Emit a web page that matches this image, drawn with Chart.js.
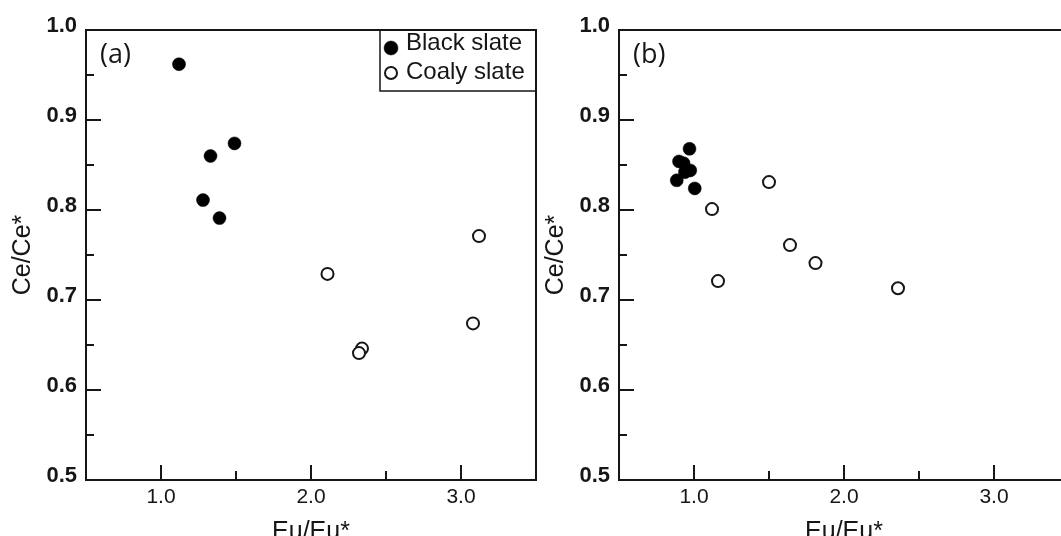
<!DOCTYPE html>
<html>
<head>
<meta charset="utf-8">
<script src="https://cdn.jsdelivr.net/npm/chart.js@4/dist/chart.umd.min.js"></script>
<style>
  html, body { margin: 0; padding: 0; background: #fff; overflow: hidden; width: 1061px; height: 536px; }
  .panel { position: absolute; top: 0; width: 545px; height: 560px; }
  #wrapA { left: 0; }
  #wrapB { left: 533px; }
</style>
</head>
<body>
<div class="panel" id="wrapA"><canvas id="chartA" width="545" height="560"></canvas></div>
<div class="panel" id="wrapB"><canvas id="chartB" width="545" height="560"></canvas></div>
<script>
// Sample values: Eu anomaly (x) vs Ce anomaly (y)
const blackA_eu = [1.12, 1.49, 1.33, 1.28, 1.39];
const blackA_ce = [0.962, 0.874, 0.860, 0.811, 0.791];
const coalyA_eu = [2.11, 3.12, 3.08, 2.34, 2.32];
const coalyA_ce = [0.729, 0.771, 0.674, 0.646, 0.641];

const blackB_eu = [0.97, 0.90, 0.93, 0.975, 0.94, 0.885, 1.005];
const blackB_ce = [0.868, 0.854, 0.852, 0.844, 0.842, 0.833, 0.824];
const coalyB_eu = [1.50, 1.12, 1.64, 1.81, 1.16, 2.36];
const coalyB_ce = [0.831, 0.801, 0.761, 0.741, 0.721, 0.713];

const seriesNames = ['Black slate', 'Coaly slate'];
const panelLetters = ['(a)', '(b)'];
const axisTitles = { x: 'Eu/Eu*', y: 'Ce/Ce*' };
const xRange = [0.5, 3.5];
const yRange = [0.5, 1.0];

const INK = '#161616';
const SANS = "'Liberation Sans', Arial, sans-serif";

const pairs = (xs, ys) => xs.map((v, i) => ({ x: v, y: ys[i] }));

const isMajorY = v => Math.abs(Math.round(v * 10) - v * 10) < 1e-6;
const isMajorX = v => Math.abs(Math.round(v) - v) < 1e-6;

// Frame, inward tick marks, panel letter and boxed legend
const framePlugin = {
  id: 'framePlugin',
  afterDatasetsDraw(chart, args, opts) {
    const { ctx, chartArea: a, scales: { x, y } } = chart;
    ctx.save();
    ctx.strokeStyle = INK;
    ctx.lineWidth = 2;
    ctx.strokeRect(a.left, a.top, a.right - a.left, a.bottom - a.top);

    y.ticks.forEach(t => {
      const py = Math.round(y.getPixelForValue(t.value));
      const len = isMajorY(t.value) ? 15 : 8;
      ctx.beginPath();
      ctx.moveTo(a.left, py);
      ctx.lineTo(a.left + len, py);
      ctx.stroke();
    });
    x.ticks.forEach(t => {
      const px = Math.round(x.getPixelForValue(t.value));
      const len = isMajorX(t.value) ? 15 : 9;
      ctx.beginPath();
      ctx.moveTo(px, a.bottom);
      ctx.lineTo(px, a.bottom - len);
      ctx.stroke();
    });

    // panel letter
    ctx.fillStyle = INK;
    ctx.font = "27px 'Open Sans', sans-serif";
    ctx.textAlign = 'left';
    ctx.textBaseline = 'middle';
    ctx.fillText(opts.letter, a.left + 14, a.top + 25);

    // legend box in the upper-right corner
    if (opts.legend) {
      const w = 156, h = 61;
      const lx = a.right - w, ly = a.top;
      ctx.lineWidth = 1.5;
      ctx.strokeRect(lx, ly, w, h);
      const markerY = [18, 43];
      const textY = [13, 42];
      chart.data.datasets.forEach((ds, i) => {
        ctx.beginPath();
        ctx.arc(lx + 11, ly + markerY[i], ds.pointRadius + (i === 0 ? 0.5 : 0), 0, Math.PI * 2);
        ctx.fillStyle = ds.pointBackgroundColor;
        ctx.fill();
        ctx.lineWidth = ds.pointBorderWidth;
        ctx.strokeStyle = ds.pointBorderColor;
        ctx.stroke();
        ctx.fillStyle = INK;
        ctx.font = `24px ${SANS}`;
        ctx.textBaseline = 'middle';
        ctx.fillText(ds.label, lx + 26, ly + textY[i]);
      });
    }
    ctx.restore();
  }
};

function makeChart(id, black, coaly, letter, legend) {
  return new Chart(document.getElementById(id), {
    type: 'scatter',
    data: {
      datasets: [
        {
          label: seriesNames[0],
          data: black,
          pointRadius: 6.5,
          pointBackgroundColor: '#000',
          pointBorderColor: '#000',
          pointBorderWidth: 0.5,
          pointHoverRadius: 6.5
        },
        {
          label: seriesNames[1],
          data: coaly,
          pointRadius: 6,
          pointBackgroundColor: '#fff',
          pointBorderColor: INK,
          pointBorderWidth: 2,
          pointHoverRadius: 6
        }
      ]
    },
    options: {
      responsive: false,
      animation: false,
      events: [],
      layout: { padding: { top: 30, right: 9, left: 0, bottom: 0 } },
      plugins: {
        legend: { display: false },
        tooltip: { enabled: false },
        framePlugin: { letter, legend }
      },
      scales: {
        x: {
          type: 'linear',
          min: xRange[0],
          max: xRange[1],
          grid: { display: false, drawTicks: false, tickLength: 0 },
          border: { display: false },
          ticks: {
            stepSize: 0.5,
            autoSkip: false,
            maxRotation: 0,
            padding: 5,
            color: INK,
            font: { family: SANS, size: 21 },
            callback: v => (isMajorX(v) && v > xRange[0] && v < xRange[1]) ? v.toFixed(1) : ''
          },
          title: {
            display: true,
            text: axisTitles.x,
            color: INK,
            font: { family: SANS, size: 25 },
            padding: { top: 0, bottom: 13 }
          },
          afterFit: s => { s.height = 80; }
        },
        y: {
          type: 'linear',
          min: yRange[0],
          max: yRange[1],
          grid: { display: false, drawTicks: false, tickLength: 0 },
          border: { display: false },
          ticks: {
            stepSize: 0.05,
            autoSkip: false,
            padding: 9,
            labelOffset: -4,
            color: INK,
            font: { family: SANS, size: 22, weight: 'bold' },
            callback: v => isMajorY(v) ? v.toFixed(1) : ''
          },
          title: {
            display: true,
            text: axisTitles.y,
            color: INK,
            font: { family: SANS, size: 25 },
            padding: { top: 8, bottom: 0 }
          },
          afterFit: s => { s.width = 86; }
        }
      }
    },
    plugins: [framePlugin]
  });
}

makeChart('chartA', pairs(blackA_eu, blackA_ce), pairs(coalyA_eu, coalyA_ce), panelLetters[0], true);
makeChart('chartB', pairs(blackB_eu, blackB_ce), pairs(coalyB_eu, coalyB_ce), panelLetters[1], false);
</script>
</body>
</html>
